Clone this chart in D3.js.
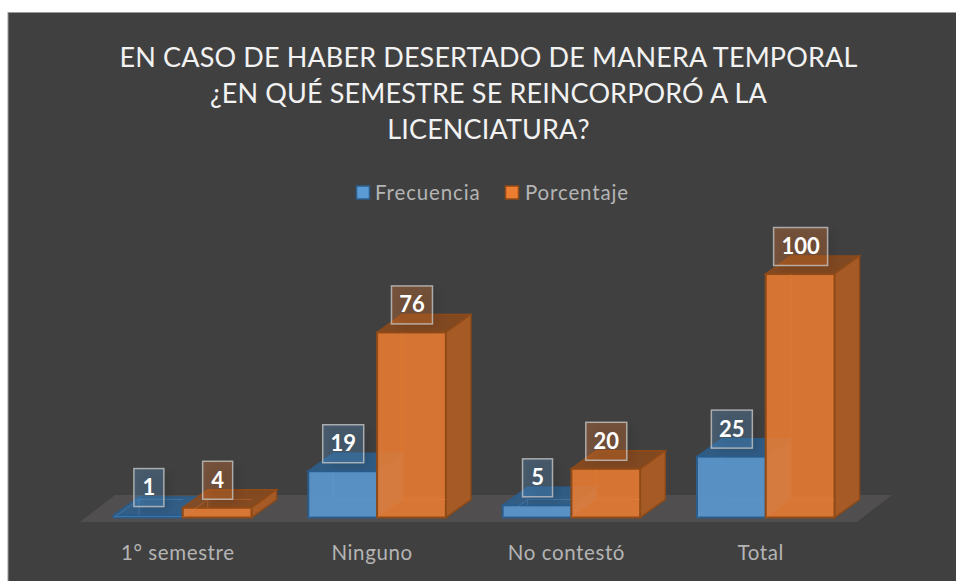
<!DOCTYPE html>
<html><head><meta charset="utf-8">
<script src="https://cdn.jsdelivr.net/npm/d3@7"></script>
<style>html,body{margin:0;padding:0;background:#fff}svg{display:block}text{font-family:Lato,"Open Sans",sans-serif}</style>
</head><body><svg id="c" width="956" height="581"></svg>
<script>
const categories = ["1° semestre","Ninguno","No contestó","Total"];
const seriesNames = ["Frecuencia","Porcentaje"];
const frecuencia = [1,19,5,25];
const porcentaje = [4,76,20,100];
const titleLines = ["EN CASO DE HABER DESERTADO DE MANERA TEMPORAL","¿EN QUÉ SEMESTRE SE REINCORPORÓ A LA","LICENCIATURA?"];

const svg = d3.select("#c");
const W=956,H=581;
const defs=svg.append("defs");
defs.append("filter").attr("id","soft").attr("x","-50%").attr("y","-50%").attr("width","200%").attr("height","200%")
 .append("feGaussianBlur").attr("stdDeviation",5);
svg.append("rect").attr("x",8).attr("y",12.5).attr("width",W).attr("height",H).attr("fill","#404040").attr("stroke","#9a9a9a").attr("stroke-width",1);

const x = d3.scaleBand().domain(categories).range([86,862.5]).paddingInner(0.2923).paddingOuter(0.1441);
const xs = d3.scaleBand().domain(seriesNames).range([0,x.bandwidth()]);
const y = d3.scaleLinear().domain([0,100]).range([517.5,274]);
const dx=25, dy=-18;
const sty = {
 Frecuencia:{front:"#5b9bd5",fo:.88,side:"#3f6f9c",top:"#2f5f8c",stroke:"#2a5d8c"},
 Porcentaje:{front:"#ed7d31",fo:.87,side:"#a65b26",top:"#8a4a1e",stroke:"#8f4a17"}
};
// floor
svg.append("path").attr("fill","#504e4e")
 .attr("d",d3.line()([[80,522],[857,522],[892,495],[115,495]])+"Z");

// title
svg.append("g").selectAll("text").data(titleLines).join("text")
 .attr("x",488.5).attr("y",(d,i)=>67+i*36).attr("text-anchor","middle")
 .attr("font-size",27).attr("letter-spacing",.13).attr("fill","#f2f2f2").text(d=>d);

// legend
const lg=[{n:seriesNames[0],x:356,tx:375},{n:seriesNames[1],x:505,tx:525}];
lg.forEach(l=>{
 const s=sty[l.n];
 svg.append("rect").attr("x",l.x+.5).attr("y",186).attr("width",13).attr("height",13).attr("fill",s.front).attr("stroke",s.stroke).attr("stroke-width",1.5);
 svg.append("text").attr("x",l.tx).attr("y",200).attr("font-size",20.5).attr("letter-spacing",.85).attr("fill","#b4b4b4").text(l.n);
});

// axis labels
const axis = d3.axisBottom(x).tickSize(0).tickPadding(0);
const ax = svg.append("g").attr("transform","translate(-5,545)").call(axis);
ax.select(".domain").remove();
ax.selectAll("text").attr("font-size",20.5).attr("letter-spacing",.6).attr("fill","#b4b4b4").attr("dy","0.71em").style("font-family","Lato,'Open Sans',sans-serif");

// bars
function bar(g,cat,name,v){
 const s=sty[name], x0=x(cat)+xs(name), w=xs.bandwidth(), yt=y(v), yb=y(0);
 const line=d3.line();
 // top
 g.append("path").attr("d",line([[x0,yt],[x0+w,yt],[x0+w+dx,yt+dy],[x0+dx,yt+dy]])+"Z").attr("fill",s.top).attr("fill-opacity",.9).attr("stroke",s.stroke).attr("stroke-width",1.5);
 // side
 g.append("path").attr("d",line([[x0+w,yt],[x0+w+dx,yt+dy],[x0+w+dx,yb+dy],[x0+w,yb]])+"Z").attr("fill",s.side).attr("stroke",s.stroke).attr("stroke-width",1.5);
 // front
 g.append("rect").attr("x",x0).attr("y",yt).attr("width",w).attr("height",yb-yt).attr("fill",s.front).attr("fill-opacity",s.fo).attr("stroke",s.stroke).attr("stroke-width",2);
 // ghost inner edges
 g.append("path").attr("d",line([[x0+dx,yt],[x0+dx,yb+dy]])+line([[x0+dx,yb+dy],[x0+w,yb+dy]])+line([[x0,yb],[x0+dx,yb+dy]]))
  .attr("fill","none").attr("stroke",s.front).attr("stroke-opacity",.35).attr("stroke-width",1);
}
const barsG=svg.append("g");
categories.forEach((c,i)=>{
 bar(barsG,c,seriesNames[0],frecuencia[i]);
 bar(barsG,c,seriesNames[1],porcentaje[i]);
});

// value labels
function label(cat,name,v){
 const cx=x(cat)+xs(name)+xs.bandwidth()/2+.5, cy=y(v)-27.5;
 const t=String(v), bw=t.length===1?30:t.length===2?41:54, bh=38;
 const g=svg.append("g");
 g.append("rect").attr("x",cx-bw/2+6).attr("y",cy-bh/2+4).attr("width",bw).attr("height",bh)
  .attr("fill","#000").attr("fill-opacity",.1).attr("filter","url(#soft)");
 g.append("rect").attr("x",cx-bw/2).attr("y",cy-bh/2).attr("width",bw).attr("height",bh)
  .attr("fill",sty[name].front).attr("fill-opacity",.3).attr("stroke","#c4c4c4").attr("stroke-opacity",.8).attr("stroke-width",1.5);
 g.append("text").attr("x",cx).attr("y",cy+7.5).attr("text-anchor","middle").attr("font-size",22).attr("font-weight",700).attr("fill","#fff").text(t);
}
categories.forEach((c,i)=>{
 label(c,seriesNames[0],frecuencia[i]);
 label(c,seriesNames[1],porcentaje[i]);
});
</script></body></html>
